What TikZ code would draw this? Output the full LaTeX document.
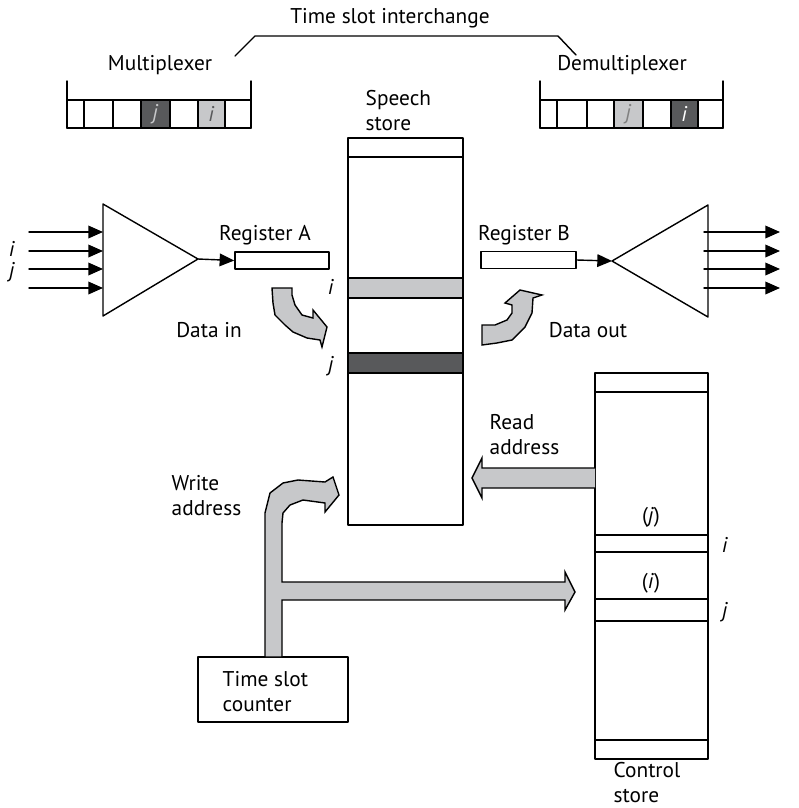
\documentclass[tikz,border=0pt]{standalone}
\usepackage{fontspec}
\setmainfont{PT Sans}
\usetikzlibrary{arrows.meta}
\definecolor{SlotLight}{HTML}{C7C8CA}
\definecolor{SlotDark}{HTML}{58595B}

\begin{document}
\begin{tikzpicture}[x=0.75pt,y=-0.75pt,line cap=round,line join=round,line width=1.05pt,
  lbl/.style={font=\fontsize{16}{18.75}\selectfont,inner sep=0pt},
  reg/.style={draw,minimum height=12.75pt,inner sep=0pt},
  fat/.style={fill=SlotLight,draw,line width=1.05pt,line join=miter},
  sig/.style={-{Triangle[length=11pt,width=9.5pt]}}]
  \useasboundingbox (0,0) rectangle (799,808);
  % title and bracket
  \node[lbl] (title) at (390,18) {Time slot interchange};
  \coordinate (brL) at (235,56); \coordinate (brR) at (576,55);
  \draw (brL)--(255,36)--(558,36)--(brR);
  % multiplexer frame
  \node[lbl] (muxlbl) at (160,65) {Multiplexer};
  \fill[SlotDark] (141,100) rectangle (170,128); \fill[SlotLight] (198,100) rectangle (225,128);
  \foreach \x in {67,84,113,141,170,198,225,251} \draw (\x,100)--(\x,128);
  \draw (67,81)--(67,128)--(251,128)--(251,81) (67,100)--(251,100);
  \node[lbl,text=SlotLight] (muxj) at (155.5,114) {\textit{j}};
  \node[lbl,text=SlotDark] (muxi) at (211.5,114) {\textit{i}};
  % demultiplexer frame
  \node[lbl] (demuxlbl) at (622,65) {Demultiplexer};
  \fill[SlotLight] (614,100) rectangle (643,128); \fill[SlotDark] (671,100) rectangle (698,128);
  \foreach \x in {540,557,587,614,643,671,698,723} \draw (\x,100)--(\x,128);
  \draw (540,81)--(540,128)--(723,128)--(723,81) (540,100)--(723,100);
  \node[lbl,text=gray] (demuxj) at (628.5,114) {\textit{j}};
  \node[lbl,text=white] (demuxi) at (684.5,114) {\textit{i}};
  % speech store
  \node[lbl,anchor=west,align=left] (speechlbl) at (365,110.5) {Speech\\store};
  \draw (348,138) rectangle (463,525); \draw (348,157)--(463,157);
  \filldraw[fill=SlotLight] (348,278) rectangle (463,298);
  \filldraw[fill=SlotDark] (348,353) rectangle (463,373);
  \node[lbl] (spi) at (331,287) {\textit{i}};
  \node[lbl] (spj) at (331,366) {\textit{j}};
  % input side
  \draw (103,204)--(198,259)--(103,316)--cycle; \coordinate (muxout) at (198,259);
  \foreach \y in {232,251,269,288} \draw[sig] (29,\y)--(103,\y);
  \node[lbl] (ini) at (12,249) {\textit{i}};
  \node[lbl] (inj) at (12,272) {\textit{j}};
  \node[reg,minimum width=70.5pt] (regA) at (282,260.5) {};
  \node[lbl] (regAlbl) at (265,235) {Register A};
  \draw[sig] (muxout)--(regA.west);
  \draw[fat] (272,288)--(292,288)--(292,295)--(295,305)--(302,315)--(313,318)--(313,310)--(327,327)
    --(322,347)--(320,340)--(307,338)--(293,332)--(285,325)--(275,315)--(273,303)--cycle;
  \node[lbl] (datain) at (209,330) {Data in};
  % output side
  \node[reg,minimum width=71.25pt] (regB) at (528.5,260) {};
  \node[lbl] (regBlbl) at (524,235) {Register B};
  \draw (708,205)--(612,261)--(708,317)--cycle; \coordinate (demuxin) at (612,261);
  \draw[sig] (regB.east)--(demuxin);
  \foreach \y in {232,251,269,288} \draw[sig] (704,\y)--(780,\y);
  \draw[fat] (482,325)--(482,345)--(497,343)--(512,340)--(525,327)--(532,313)--(533,298)--(542,295)
    --(520,290)--(505,303)--(512,305)--(512,313)--(507,320)--(495,325)--cycle;
  \node[lbl] (dataout) at (588,330) {Data out};
  % control store
  \draw (595,373) rectangle (708,759);
  \foreach \y in {392,535,552,599,621,740} \draw (595,\y)--(708,\y);
  \node[lbl] (cj) at (651,517) {(\textit{j})};
  \node[lbl] (ci) at (651,583) {(\textit{i})};
  \node[lbl] (csi) at (725,545) {\textit{i}};
  \node[lbl] (csj) at (725,612) {\textit{j}};
  \node[lbl,anchor=west,align=left] (ctrllbl) at (613,783) {Control\\store};
  % read address
  \draw[fat] (595,468)--(482,468)--(482,458)--(472,478)--(482,498)--(482,488)--(595,488);
  \node[lbl,anchor=west,align=left] (readlbl) at (489,434.5) {Read\\address};
  % time slot counter and write address
  \draw (198,657) rectangle (348,722);
  \node[lbl,anchor=west,align=left] (counter) at (222,691.5) {Time slot\\counter};
  \draw[fat] (265,657)--(265,513)--(270,493)--(283,483)--(298,480)--(325,482)--(333,477)--(339,495)
    --(325,512)--(325,503)--(303,500)--(290,505)--(283,513)--(282,523)--(282,582)--(565,582)
    --(565,572)--(575,592)--(565,610)--(565,600)--(282,600)--(282,657)--cycle;
  \node[lbl,anchor=west,align=left] (writelbl) at (171,495.5) {Write\\address};
\end{tikzpicture}
\end{document}
